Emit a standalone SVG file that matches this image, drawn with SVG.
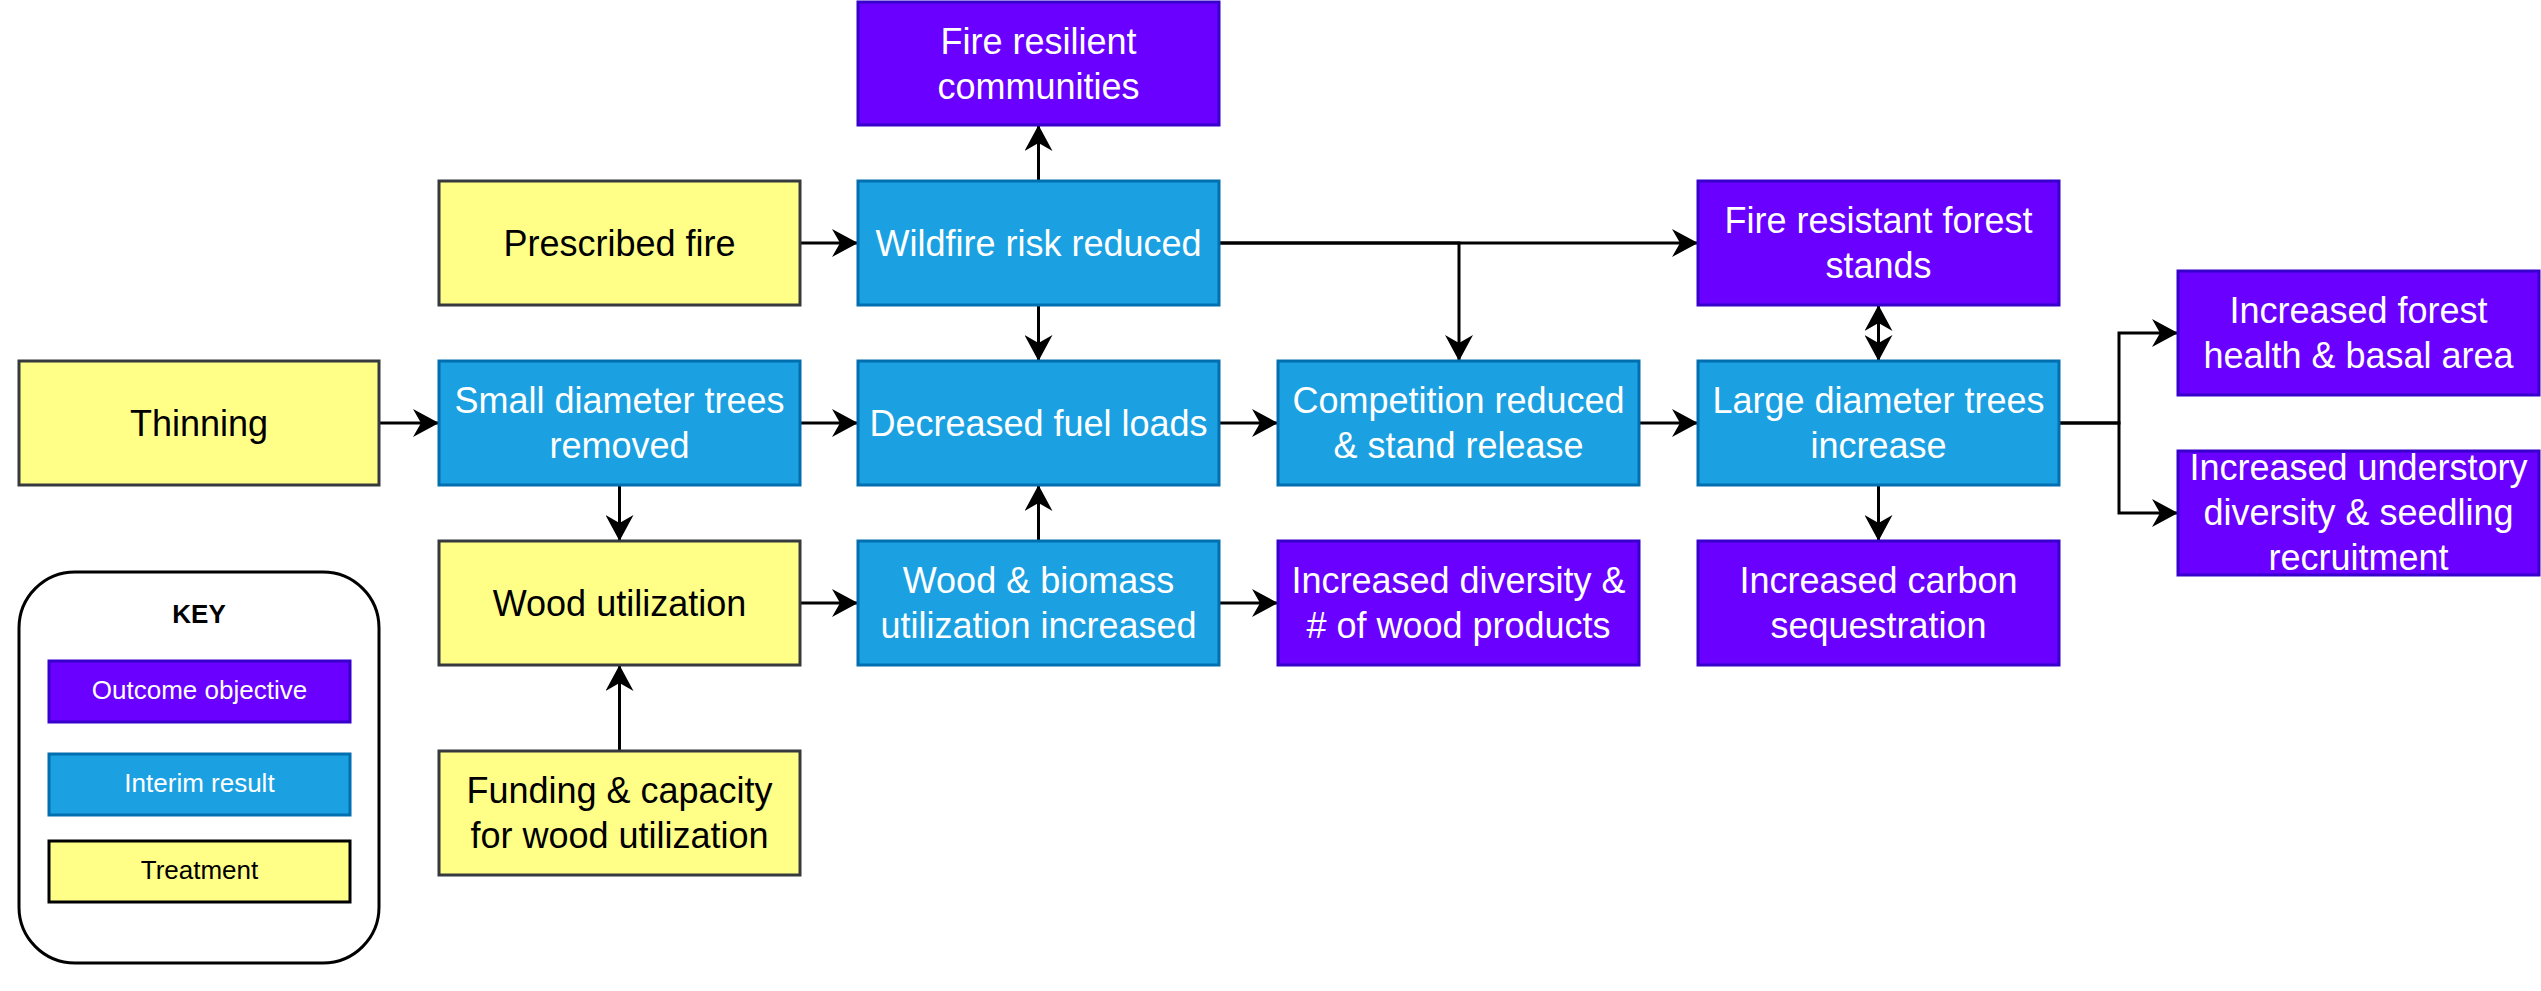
<svg xmlns="http://www.w3.org/2000/svg" width="2541" height="991" viewBox="0 0 2541 991">
<style>
  .t { fill: #ffff88; stroke: #36393d; stroke-width: 3; }
  .i { fill: #1ba1e2; stroke: #006eaf; stroke-width: 3; }
  .o { fill: #6a00ff; stroke: #3700cc; stroke-width: 3; }
  text { font-family: "Liberation Sans", Arial, Helvetica, sans-serif; text-anchor: middle; }
  .lt { font-size: 36px; fill: #000000; }
  .lw { font-size: 36px; fill: #ffffff; }
  .kt { font-size: 26px; }
  .edge { fill: none; stroke: #000000; stroke-width: 3; }
</style>
<defs>
  <marker id="arr" viewBox="0 0 26 28" refX="26" refY="14" markerWidth="26" markerHeight="28" markerUnits="userSpaceOnUse" orient="auto-start-reverse">
    <path d="M0,0 L26,14 L0,28 L8,14 Z" fill="#000000"/>
  </marker>
</defs>
<rect width="2541" height="991" fill="#ffffff"/>

<g id="connectors">
  <path class="edge" d="M799,243 L858,243" marker-end="url(#arr)"/>
  <path class="edge" d="M379,423 L439,423" marker-end="url(#arr)"/>
  <path class="edge" d="M799,423 L858,423" marker-end="url(#arr)"/>
  <path class="edge" d="M1219,423 L1278,423" marker-end="url(#arr)"/>
  <path class="edge" d="M1639,423 L1698,423" marker-end="url(#arr)"/>
  <path class="edge" d="M799,603 L858,603" marker-end="url(#arr)"/>
  <path class="edge" d="M1219,603 L1278,603" marker-end="url(#arr)"/>
  <path class="edge" d="M619.5,485 L619.5,541" marker-end="url(#arr)"/>
  <path class="edge" d="M619.5,751 L619.5,665" marker-end="url(#arr)"/>
  <path class="edge" d="M1038.5,181 L1038.5,125" marker-end="url(#arr)"/>
  <path class="edge" d="M1038.5,305 L1038.5,361" marker-end="url(#arr)"/>
  <path class="edge" d="M1038.5,541 L1038.5,485" marker-end="url(#arr)"/>
  <path class="edge" d="M1219,243 L1698,243" marker-end="url(#arr)"/>
  <path class="edge" d="M1219,243 L1459,243 L1459,361" marker-end="url(#arr)"/>
  <path class="edge" d="M1878.5,305 L1878.5,361" marker-start="url(#arr)" marker-end="url(#arr)"/>
  <path class="edge" d="M1878.5,485 L1878.5,541" marker-end="url(#arr)"/>
  <path class="edge" d="M2059,423 L2119,423 L2119,333 L2178,333" marker-end="url(#arr)"/>
  <path class="edge" d="M2059,423 L2119,423 L2119,513 L2178,513" marker-end="url(#arr)"/>
</g>

<g id="fire-resilient">
  <rect class="o" x="858" y="2" width="361" height="123"/>
  <text class="lw" x="1038.5" y="53.5">Fire resilient</text>
  <text class="lw" x="1038.5" y="98.5">communities</text>
</g>
<g id="prescribed-fire">
  <rect class="t" x="439" y="181" width="361" height="124"/>
  <text class="lt" x="619.5" y="255.5">Prescribed fire</text>
</g>
<g id="wildfire-risk">
  <rect class="i" x="858" y="181" width="361" height="124"/>
  <text class="lw" x="1038.5" y="255.5">Wildfire risk reduced</text>
</g>
<g id="fire-resistant">
  <rect class="o" x="1698" y="181" width="361" height="124"/>
  <text class="lw" x="1878.5" y="233">Fire resistant forest</text>
  <text class="lw" x="1878.5" y="278">stands</text>
</g>
<g id="thinning">
  <rect class="t" x="19" y="361" width="360" height="124"/>
  <text class="lt" x="199" y="435.5">Thinning</text>
</g>
<g id="small-diameter">
  <rect class="i" x="439" y="361" width="361" height="124"/>
  <text class="lw" x="619.5" y="413">Small diameter trees</text>
  <text class="lw" x="619.5" y="458">removed</text>
</g>
<g id="decreased-fuel">
  <rect class="i" x="858" y="361" width="361" height="124"/>
  <text class="lw" x="1038.5" y="435.5">Decreased fuel loads</text>
</g>
<g id="competition">
  <rect class="i" x="1278" y="361" width="361" height="124"/>
  <text class="lw" x="1458.5" y="413">Competition reduced</text>
  <text class="lw" x="1458.5" y="458">&amp; stand release</text>
</g>
<g id="large-diameter">
  <rect class="i" x="1698" y="361" width="361" height="124"/>
  <text class="lw" x="1878.5" y="413">Large diameter trees</text>
  <text class="lw" x="1878.5" y="458">increase</text>
</g>
<g id="forest-health">
  <rect class="o" x="2178" y="271" width="361" height="124"/>
  <text class="lw" x="2358.5" y="323">Increased forest</text>
  <text class="lw" x="2358.5" y="368">health &amp; basal area</text>
</g>
<g id="understory">
  <rect class="o" x="2178" y="451" width="361" height="124"/>
  <text class="lw" x="2358.5" y="480">Increased understory</text>
  <text class="lw" x="2358.5" y="525">diversity &amp; seedling</text>
  <text class="lw" x="2358.5" y="570">recruitment</text>
</g>
<g id="wood-utilization">
  <rect class="t" x="439" y="541" width="361" height="124"/>
  <text class="lt" x="619.5" y="615.5">Wood utilization</text>
</g>
<g id="wood-biomass">
  <rect class="i" x="858" y="541" width="361" height="124"/>
  <text class="lw" x="1038.5" y="593">Wood &amp; biomass</text>
  <text class="lw" x="1038.5" y="638">utilization increased</text>
</g>
<g id="wood-products">
  <rect class="o" x="1278" y="541" width="361" height="124"/>
  <text class="lw" x="1458.5" y="593">Increased diversity &amp;</text>
  <text class="lw" x="1458.5" y="638"># of wood products</text>
</g>
<g id="carbon">
  <rect class="o" x="1698" y="541" width="361" height="124"/>
  <text class="lw" x="1878.5" y="593">Increased carbon</text>
  <text class="lw" x="1878.5" y="638">sequestration</text>
</g>
<g id="funding">
  <rect class="t" x="439" y="751" width="361" height="124"/>
  <text class="lt" x="619.5" y="803">Funding &amp; capacity</text>
  <text class="lt" x="619.5" y="848">for wood utilization</text>
</g>

<g id="key">
  <rect x="19" y="572" width="360" height="391" rx="56" ry="56" fill="#ffffff" stroke="#000000" stroke-width="3"/>
  <text class="kt" x="199" y="623" font-weight="bold" fill="#000000">KEY</text>
  <rect class="o" x="49" y="661" width="301" height="61"/>
  <text class="kt" x="199.5" y="699" fill="#ffffff">Outcome objective</text>
  <rect class="i" x="49" y="754" width="301" height="61"/>
  <text class="kt" x="199.5" y="792" fill="#ffffff">Interim result</text>
  <rect x="49" y="841" width="301" height="61" fill="#ffff88" stroke="#000000" stroke-width="3"/>
  <text class="kt" x="199.5" y="879" fill="#000000">Treatment</text>
</g>
</svg>
